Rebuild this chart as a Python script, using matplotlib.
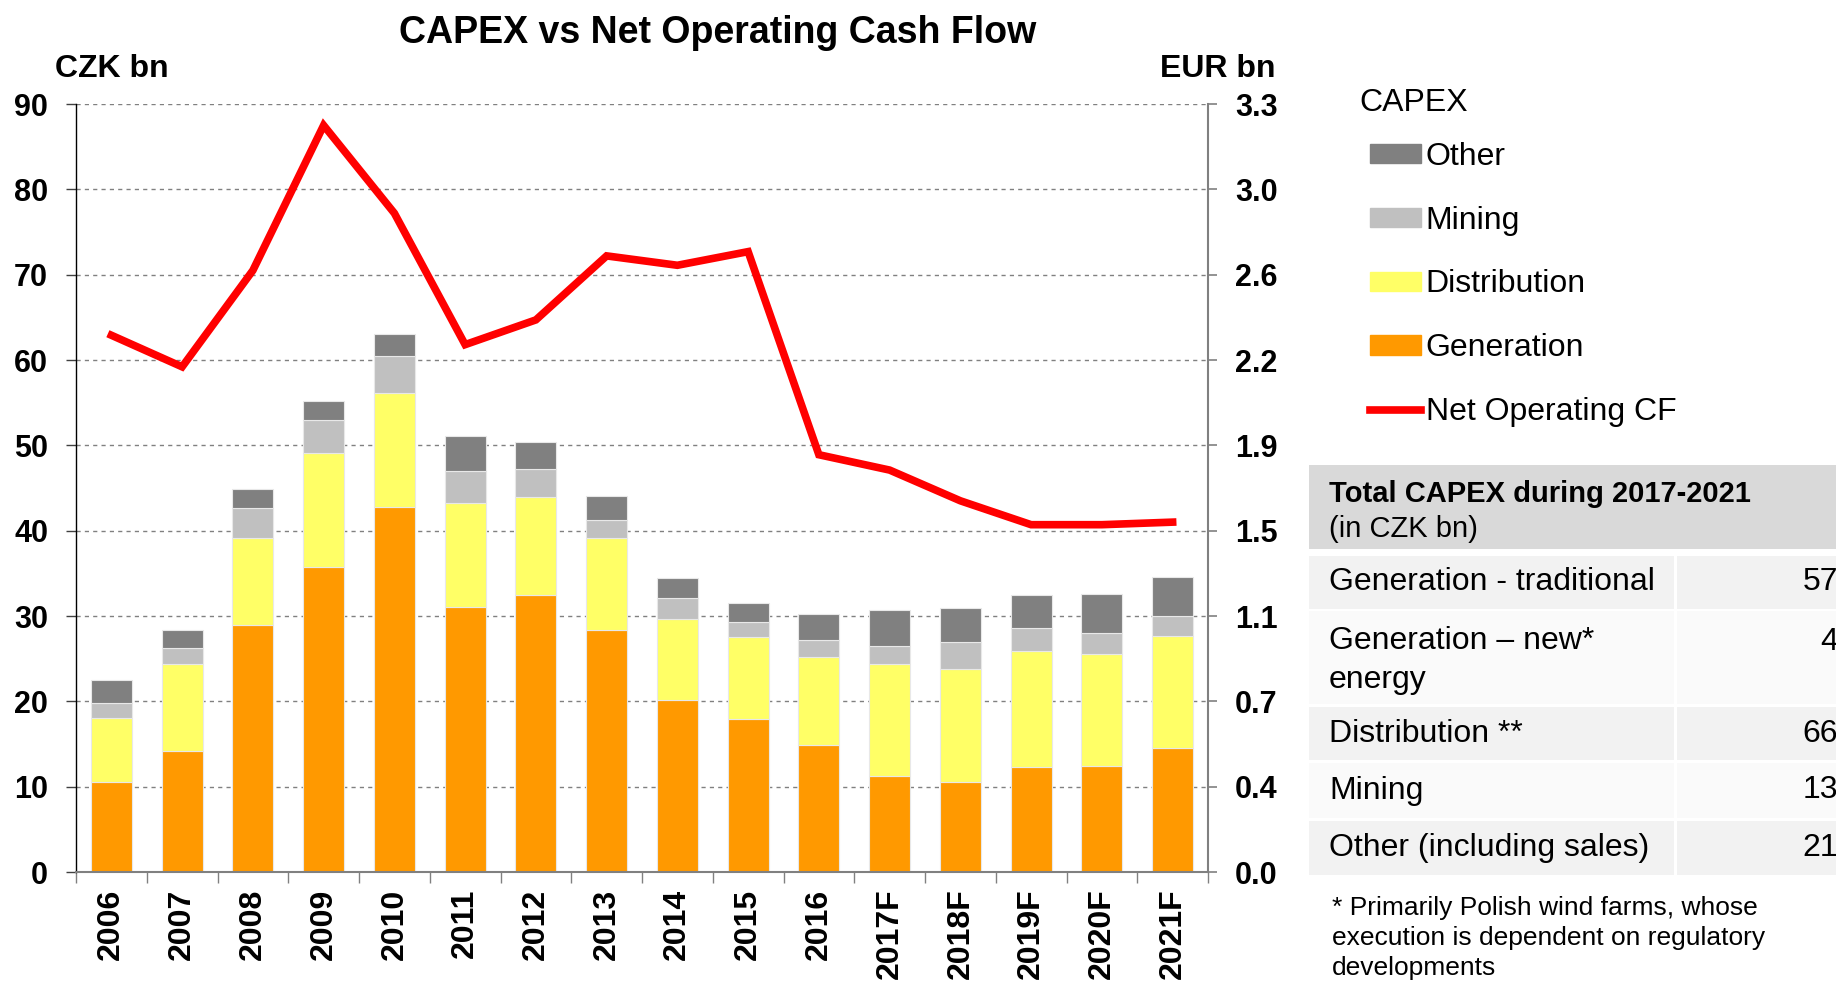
import numpy as np
import matplotlib
matplotlib.use("Agg")
import matplotlib.pyplot as plt
from matplotlib.patches import Rectangle, Patch
from matplotlib.lines import Line2D

plt.rcParams['font.family'] = ['Liberation Sans', 'DejaVu Sans']

# ---- data (CZK bn) ----
years = ["2006", "2007", "2008", "2009", "2010", "2011", "2012", "2013",
         "2014", "2015", "2016", "2017F", "2018F", "2019F", "2020F", "2021F"]
generation   = [10.5, 14.2, 29.0, 35.7, 42.8, 31.1, 32.5, 28.4, 20.1, 17.9, 14.9, 11.3, 10.5, 12.3, 12.4, 14.5]
distribution = [7.5, 10.2, 10.1, 13.4, 13.3, 12.2, 11.4, 10.7, 9.5, 9.6, 10.3, 13.1, 13.3, 13.6, 13.2, 13.1]
mining       = [1.8, 1.85, 3.5, 3.9, 4.4, 3.7, 3.3, 2.15, 2.5, 1.8, 2.0, 2.1, 3.2, 2.7, 2.4, 2.4]
other        = [2.7, 2.15, 2.3, 2.2, 2.6, 4.1, 3.2, 2.85, 2.4, 2.2, 3.0, 4.2, 3.9, 3.9, 4.6, 4.6]
net_op_cf    = [62.9, 59.2, 70.5, 87.5, 77.2, 61.8, 64.7, 72.2, 71.1, 72.7, 48.9, 47.1, 43.5, 40.7, 40.7, 41.0]
CZK_PER_EUR = 27.0

table_rows = ["Generation - traditional", "Generation \u2013 new*\nenergy", "Distribution **",
              "Mining", "Other (including sales)"]
table_vals = ["57", "4", "66", "13", "21"]

# ---- colours ----
C_GEN, C_DIST, C_MIN, C_OTH, C_CF = "#FF9900", "#FFFF66", "#C0C0C0", "#808080", "#FF0000"

W, H = 1836, 982
fig = plt.figure(figsize=(W / 100, H / 100), dpi=100)
ax = fig.add_axes([76 / W, 1 - 872 / H, (1208 - 76) / W, (872 - 104) / H])

x = np.arange(len(years))
bw = 0.58
edge = dict(edgecolor="#E8E8E8", linewidth=0.8)
ax.bar(x, generation, bw, color=C_GEN, **edge, zorder=2)
bot = np.array(generation)
ax.bar(x, distribution, bw, bottom=bot, color=C_DIST, **edge, zorder=2)
bot = bot + np.array(distribution)
ax.bar(x, mining, bw, bottom=bot, color=C_MIN, **edge, zorder=2)
bot = bot + np.array(mining)
ax.bar(x, other, bw, bottom=bot, color=C_OTH, **edge, zorder=2)

ax.plot(x, net_op_cf, color=C_CF, lw=5.5, solid_joinstyle="miter", zorder=3)

ax.set_xlim(-0.5, len(years) - 0.5)
ax.set_ylim(0, 90)
ax.set_yticks(np.arange(0, 91, 10))
ax.yaxis.grid(True, color="#808080", linestyle=(0, (3, 3)), linewidth=1)
ax.set_axisbelow(True)
ax.tick_params(axis="y", labelsize=22, length=7, width=1, pad=13, color="#404040")
for lab in ax.get_yticklabels():
    lab.set_fontweight("bold")

ax.set_xticks(x)
ax.set_xticklabels(years, rotation=90, fontsize=23, fontweight="bold")
ax.tick_params(axis="x", which="major", length=0, pad=12)
ax.set_xticks(np.arange(-0.5, len(years)), minor=True)
ax.tick_params(axis="x", which="minor", length=8, width=1, color="#808080")

ax.spines["top"].set_visible(False)
ax.spines["right"].set_visible(False)
ax.spines["left"].set_color("#000000")
ax.spines["left"].set_linewidth(1)
ax.spines["bottom"].set_color("#808080")
ax.spines["bottom"].set_linewidth(1.5)

ax2 = ax.twinx()
ax2.set_ylim(0, 90 / CZK_PER_EUR)
rt = np.arange(0, 91, 10) / CZK_PER_EUR
ax2.set_yticks(rt)
ax2.set_yticklabels([f"{v:.1f}" for v in rt], fontsize=22, fontweight="bold")
ax2.tick_params(axis="y", length=6.5, width=1.2, pad=13, color="#808080")
for s in ["top", "left", "bottom"]:
    ax2.spines[s].set_visible(False)
ax2.spines["right"].set_color("#808080")
ax2.spines["right"].set_linewidth(1.5)

# ---- titles / unit labels ----
fig.text(718 / W, 1 - 33 / H, "CAPEX vs Net Operating Cash Flow", ha="center", va="center",
         fontsize=27, fontweight="bold")
fig.text(55 / W, 1 - 69 / H, "CZK bn", ha="left", va="center", fontsize=23, fontweight="bold")
fig.text(1275 / W, 1 - 69 / H, "EUR bn", ha="right", va="center", fontsize=23, fontweight="bold")

# ---- legend ----
fig.text(1359 / W, 1 - 103 / H, "CAPEX", ha="left", va="center", fontsize=23)
handles = [Patch(color=C_OTH), Patch(color=C_MIN), Patch(color=C_DIST), Patch(color=C_GEN),
           Line2D([], [], color=C_CF, lw=5.5)]
labels = ["Other", "Mining", "Distribution", "Generation", "Net Operating CF"]
fig.legend(handles, labels, loc="upper left",
           bbox_to_anchor=(1341 / W, 1 - 113 / H), frameon=False, fontsize=23,
           handlelength=1.6, handleheight=0.55, handletextpad=0.15, labelspacing=1.06)

# ---- table ----
def rect(x0, y0, x1, y1, color):
    fig.add_artist(Rectangle((x0 / W, 1 - y1 / H), (x1 - x0) / W, (y1 - y0) / H,
                             transform=fig.transFigure, facecolor=color, edgecolor="none"))

rect(1309, 465, 1840, 549, "#D9D9D9")
fig.text(1329 / W, 1 - 494 / H, "Total CAPEX during 2017-2021", ha="left", va="center",
         fontsize=21, fontweight="bold")
fig.text(1329 / W, 1 - 529 / H, "(in CZK bn)", ha="left", va="center", fontsize=21)

row_bounds = [(556, 609), (611, 704), (707, 760), (763, 818), (821, 875)]
row_cols = ["#F2F2F2", "#FAFAFA", "#F2F2F2", "#FAFAFA", "#F2F2F2"]
for (y0, y1), col, name, val in zip(row_bounds, row_cols, table_rows, table_vals):
    rect(1309, y0, 1674, y1, col)
    rect(1677, y0, 1840, y1, col)
    yc = (y0 + y1) / 2
    if "\n" in name:
        yc += 3
    fig.text(1329 / W, 1 - yc / H, name, ha="left", va="center", fontsize=23, linespacing=1.36)
    yv = yc if "\n" not in name else y0 + 31
    fig.text(1838 / W, 1 - yv / H, val, ha="right", va="center", fontsize=23)

fig.text(1332 / W, 1 - 896 / H,
         "* Primarily Polish wind farms, whose\nexecution is dependent on regulatory\ndevelopments",
         ha="left", va="top", fontsize=19, linespacing=1.32)

fig.savefig("out.png", dpi=100)
